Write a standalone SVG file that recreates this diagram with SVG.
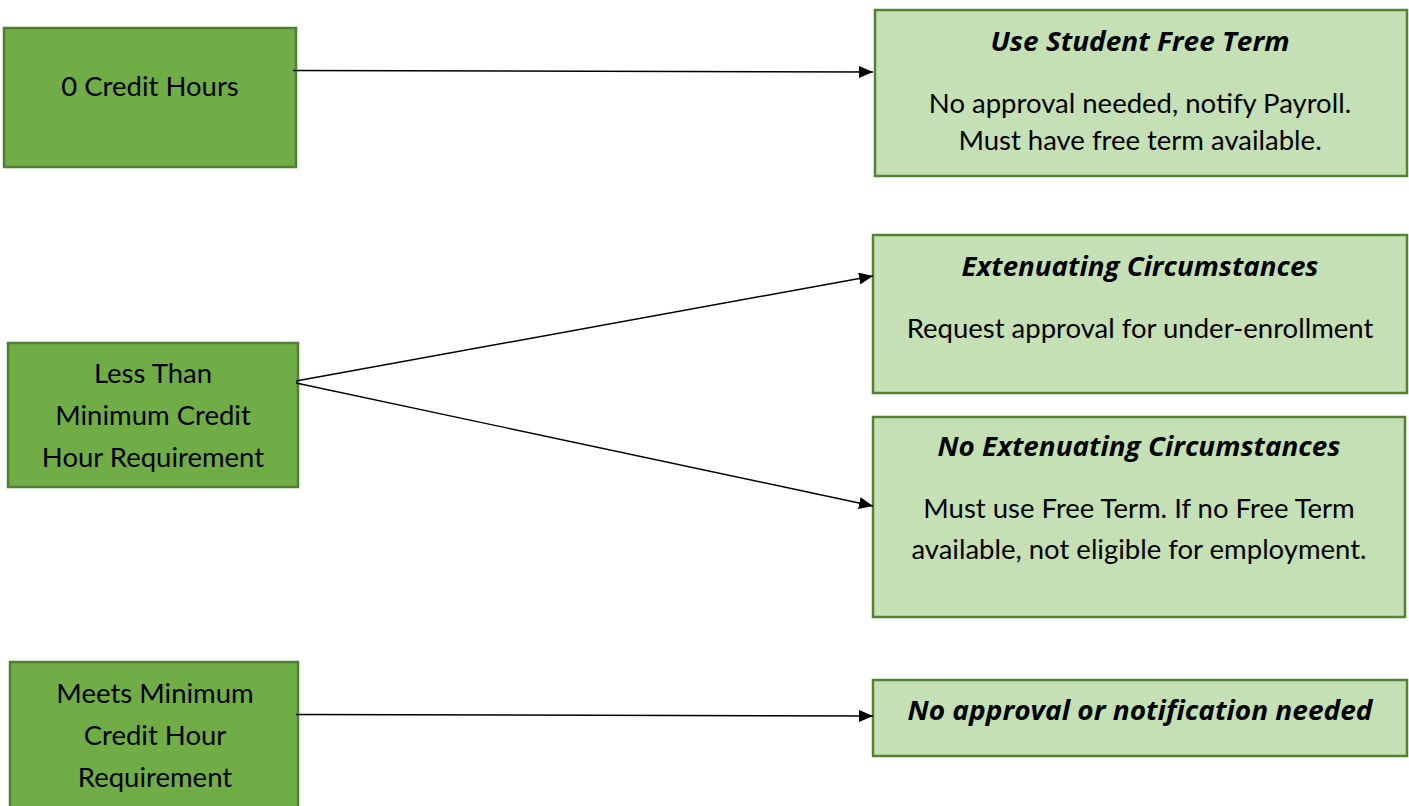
<svg xmlns="http://www.w3.org/2000/svg" width="1409" height="806" viewBox="0 0 1409 806">
<style>
.dk{fill:#70AD47;stroke:#507E32;stroke-width:2.5}
.lt{fill:#C5E0B4;stroke:#538135;stroke-width:2.5}
text{font-family:Lato,"Open Sans","Liberation Sans",sans-serif;font-size:27.5px;fill:#000;text-anchor:middle}
.h{font-family:"Open Sans",Lato,"Liberation Sans",sans-serif;font-size:26px;font-weight:bold;font-style:italic}
.c{fill:none;stroke:#000;stroke-width:1.4}
</style>
<defs>
<marker id="ah" viewBox="0 0 14 12" refX="14" refY="6" markerWidth="14" markerHeight="12" markerUnits="userSpaceOnUse" orient="auto">
<path d="M0,0 L14,6 L0,12 Z" fill="#000"/>
</marker>
</defs>
<rect width="1409" height="806" fill="#fff"/>
<g id="n0credit">
<rect class="dk" x="4" y="28" width="292" height="139"/>
<text x="150" y="96">0 Credit Hours</text>
</g>
<g id="nless">
<rect class="dk" x="8" y="343" width="290" height="144"/>
<text x="153" y="383">Less Than</text>
<text x="153" y="425">Minimum Credit</text>
<text x="153" y="467">Hour Requirement</text>
</g>
<g id="nmeets">
<rect class="dk" x="10" y="662" width="288" height="160"/>
<text x="155" y="703">Meets Minimum</text>
<text x="155" y="745">Credit Hour</text>
<text x="155" y="787">Requirement</text>
</g>
<g id="nfree">
<rect class="lt" x="875" y="10" width="532" height="166"/>
<text class="h" x="1140" y="51" textLength="299" lengthAdjust="spacingAndGlyphs">Use Student Free Term</text>
<text x="1140" y="113">No approval needed, notify Payroll.</text>
<text x="1140" y="150">Must have free term available.</text>
</g>
<g id="next">
<rect class="lt" x="873" y="235" width="534" height="158"/>
<text class="h" x="1140" y="276" textLength="357" lengthAdjust="spacingAndGlyphs">Extenuating Circumstances</text>
<text x="1140" y="338">Request approval for under-enrollment</text>
</g>
<g id="nnoext">
<rect class="lt" x="873" y="417" width="532" height="200"/>
<text class="h" x="1139" y="456" textLength="403" lengthAdjust="spacingAndGlyphs">No Extenuating Circumstances</text>
<text x="1139" y="518">Must use Free Term. If no Free Term</text>
<text x="1139" y="559">available, not eligible for employment.</text>
</g>
<g id="nnone">
<rect class="lt" x="873" y="680" width="534" height="76"/>
<text class="h" x="1140" y="720" textLength="465" lengthAdjust="spacingAndGlyphs">No approval or notification needed</text>
</g>
<g id="connectors">
<line class="c" x1="293" y1="70.5" x2="873" y2="72" marker-end="url(#ah)"/>
<line class="c" x1="296" y1="381" x2="873" y2="276" marker-end="url(#ah)"/>
<line class="c" x1="296" y1="383" x2="873" y2="506" marker-end="url(#ah)"/>
<line class="c" x1="296" y1="714.5" x2="873" y2="716" marker-end="url(#ah)"/>
</g>
</svg>
